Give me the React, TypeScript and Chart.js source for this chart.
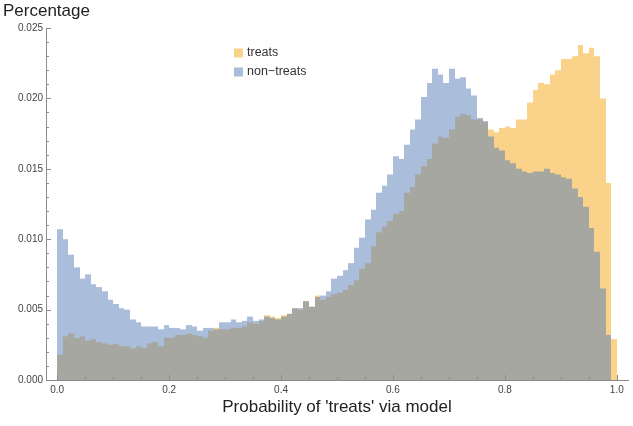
import React, { useEffect, useRef } from "react";
import { Chart, registerables } from "chart.js";

Chart.register(...registerables);

// ---- Data ----
const BIN_WIDTH = 0.01;
const binCenters = Array.from({ length: 100 }, (_, i) => +(BIN_WIDTH / 2 + i * BIN_WIDTH).toFixed(3));

const seriesLabels = ["treats", "non\u2212treats"];

const treats = [
  0.0018, 0.0031, 0.0033, 0.0030, 0.0031, 0.0028, 0.0029, 0.0027, 0.0026, 0.0025,
  0.00255, 0.0024, 0.0024, 0.00225, 0.0024, 0.0023, 0.0026, 0.0027, 0.0024, 0.0030,
  0.0030, 0.0032, 0.0032, 0.0033, 0.0032, 0.0031, 0.0030, 0.0035, 0.0037, 0.0036,
  0.0036, 0.0037, 0.0037, 0.0038, 0.0041, 0.0040, 0.0042, 0.0046, 0.0045, 0.0044,
  0.0046, 0.0047, 0.0051, 0.0050, 0.0056, 0.0052, 0.0060, 0.0057, 0.0059, 0.0061,
  0.0062, 0.0064, 0.00675, 0.0071, 0.0079, 0.0083, 0.0095, 0.0105, 0.0109, 0.0113,
  0.0118, 0.0120, 0.0133, 0.0137, 0.0146, 0.0152, 0.0157, 0.0168, 0.0173, 0.0172,
  0.0178, 0.0187, 0.0189, 0.0188, 0.0185, 0.0185, 0.0183, 0.0178, 0.0176, 0.0179,
  0.0180, 0.0179, 0.0185, 0.0185, 0.0197, 0.0206, 0.0211, 0.0210, 0.0217, 0.0220,
  0.0228, 0.0228, 0.0230, 0.0238, 0.0232, 0.0236, 0.0230, 0.0200, 0.0140, 0.0029,
];

const nonTreats = [
  0.0107, 0.0100, 0.0089, 0.0080, 0.0072, 0.0075, 0.0068, 0.0066, 0.0063, 0.0057,
  0.0054, 0.0051, 0.0050, 0.0043, 0.0041, 0.0038, 0.0038, 0.0038, 0.0036, 0.0039,
  0.0037, 0.0037, 0.0036, 0.0039, 0.0038, 0.0035, 0.0037, 0.0037, 0.0036, 0.0041,
  0.0041, 0.0043, 0.0041, 0.0042, 0.0045, 0.0042, 0.0043, 0.0045, 0.0044, 0.0043,
  0.0045, 0.0047, 0.0051, 0.0051, 0.0056, 0.0052, 0.0059, 0.0060, 0.0063, 0.0072,
  0.0074, 0.0078, 0.0083, 0.0094, 0.0101, 0.0114, 0.0121, 0.0133, 0.0138, 0.0146,
  0.0159, 0.0157, 0.0167, 0.0178, 0.0185, 0.0201, 0.0211, 0.0221, 0.0217, 0.0211,
  0.0221, 0.0214, 0.0215, 0.0207, 0.0202, 0.0186, 0.0184, 0.0173, 0.0165, 0.0163,
  0.0156, 0.0154, 0.0150, 0.0148, 0.0147, 0.0148, 0.0148, 0.0150, 0.0147, 0.0146,
  0.0144, 0.0143, 0.0136, 0.0130, 0.0123, 0.0108, 0.0091, 0.0065, 0.0032, 0.0,
];

const xTickValues = [0, 0.2, 0.4, 0.6, 0.8, 1.0];
const yTickValues = [0, 0.005, 0.01, 0.015, 0.02, 0.025];
const xMinorTicks = Array.from({ length: 21 }, (_, i) => +(i * 0.05).toFixed(2));
const yMinorTicks = Array.from({ length: 26 }, (_, i) => +(i * 0.001).toFixed(3));

const yTitle = "Percentage";
const xTitle = "Probability of 'treats' via model";

const FONT = "'Liberation Sans', Arial, sans-serif";
const AXIS_COLOR = "#8c8c8c";

// Snap bar edges (bin boundaries, via the x scale) to whole pixels so adjacent translucent bars leave no seams.
const snapBars = {
  id: "snapBars",
  afterDatasetsUpdate(chart: any) {
    const xs = chart.scales.x;
    chart.data.datasets.forEach((_: any, i: number) => {
      const meta = chart.getDatasetMeta(i);
      meta.data.forEach((el: any, j: number) => {
        const l = Math.round(xs.getPixelForValue(j * BIN_WIDTH));
        const r = Math.round(xs.getPixelForValue((j + 1) * BIN_WIDTH));
        el.x = (l + r) / 2;
        el.width = r - l;
      });
    });
  },
};

const inwardTicks = {
  id: "inwardTicks",
  afterDatasetsDraw(chart: any) {
    const { ctx, chartArea, scales } = chart;
    const x = scales.x;
    const y = scales.y;
    ctx.save();
    ctx.strokeStyle = AXIS_COLOR;
    ctx.lineWidth = 1;
    xMinorTicks.forEach((v, i) => {
      const px = Math.round(x.getPixelForValue(v)) + 0.5;
      const len = i % 4 === 0 ? 5 : 3;
      ctx.beginPath();
      ctx.moveTo(px, chartArea.bottom);
      ctx.lineTo(px, chartArea.bottom - len);
      ctx.stroke();
    });
    yMinorTicks.forEach((v, i) => {
      const py = Math.round(y.getPixelForValue(v)) + 0.5;
      const len = i % 5 === 0 ? 5 : 3;
      ctx.beginPath();
      ctx.moveTo(chartArea.left, py);
      ctx.lineTo(chartArea.left + len, py);
      ctx.stroke();
    });
    ctx.restore();
  },
};

const floatingLegend = {
  id: "floatingLegend",
  afterDraw(chart: any) {
    const { ctx } = chart;
    ctx.save();
    const items = chart.data.datasets.map((ds: any, i: number) => ({ ds, i }));
    items.sort((a: any, b: any) => (a.ds.legendIndex ?? a.i) - (b.ds.legendIndex ?? b.i));
    items.forEach(({ ds }: any, k: number) => {
      const top = 48.5 + k * 19;
      ctx.fillStyle = ds.backgroundColor;
      ctx.fillRect(234, top, 9, 9);
      ctx.fillStyle = "#333";
      ctx.font = `12.5px ${FONT}`;
      ctx.textBaseline = "middle";
      ctx.textAlign = "left";
      ctx.fillText(ds.label, 247, top + 4.5);
    });
    ctx.restore();
  },
};

export default function App() {
  const canvasRef = useRef<HTMLCanvasElement | null>(null);

  useEffect(() => {
    if (!canvasRef.current) return;
    const chart = new Chart(canvasRef.current, {
      type: "bar",
      data: {
        datasets: [
          {
            label: seriesLabels[0],
            data: binCenters.map((c, i) => ({ x: c, y: treats[i] })),
            backgroundColor: "rgba(245,165,20,0.5)",
            borderWidth: 0,
            order: 2,
            legendIndex: 0,
          } as any,
          {
            label: seriesLabels[1],
            data: binCenters.map((c, i) => ({ x: c, y: nonTreats[i] })),
            backgroundColor: "rgba(85,125,185,0.5)",
            borderWidth: 0,
            order: 1,
            legendIndex: 1,
          } as any,
        ],
      },
      options: {
        responsive: false,
        animation: false,
        devicePixelRatio: 1,
        datasets: {
          bar: {
            grouped: false,
            barPercentage: 1,
            categoryPercentage: 1,
            inflateAmount: 0,
          },
        } as any,
        layout: { padding: { left: 3, right: 5, top: 0, bottom: 0 } },
        plugins: {
          legend: { display: false },
          tooltip: { enabled: false },
          title: {
            display: true,
            text: yTitle,
            align: "start",
            color: "#222",
            font: { family: FONT, size: 17, weight: "normal" },
            padding: { top: 1, bottom: 6.6 },
          },
        },
        scales: {
          x: {
            type: "linear",
            min: -0.02,
            max: 1.02,
            offset: false,
            bounds: "ticks",
            grid: { display: false, drawTicks: false, offset: false },
            border: { display: true, color: AXIS_COLOR, width: 1 },
            afterBuildTicks: (s: any) => {
              s.ticks = xTickValues.map((v) => ({ value: v }));
            },
            afterFit: (s: any) => {
              s.height = 46;
            },
            ticks: {
              color: "#444",
              padding: 4,
              maxRotation: 0,
              font: { family: FONT, size: 10 },
              callback: (v: any) => Number(v).toFixed(1),
            },
            title: {
              display: true,
              text: xTitle,
              color: "#222",
              font: { family: FONT, size: 17, weight: "normal" },
              padding: { top: 0, bottom: 8 },
            },
          },
          y: {
            type: "linear",
            min: 0,
            max: 0.025,
            grid: { display: false, drawTicks: false },
            border: { display: true, color: AXIS_COLOR, width: 1 },
            afterBuildTicks: (s: any) => {
              s.ticks = yTickValues.map((v) => ({ value: v }));
            },
            afterFit: (s: any) => {
              s.width = 43;
            },
            ticks: {
              color: "#444",
              padding: 3,
              font: { family: FONT, size: 10 },
              callback: (v: any) => Number(v).toFixed(3),
            },
          },
        },
      },
      plugins: [snapBars, inwardTicks, floatingLegend],
    });
    return () => chart.destroy();
  }, []);

  return (
    <div style={{ position: "fixed", left: 0, top: 0, width: 633, height: 426, background: "#fff" }}>
      <canvas ref={canvasRef} width={633} height={426} />
    </div>
  );
}
